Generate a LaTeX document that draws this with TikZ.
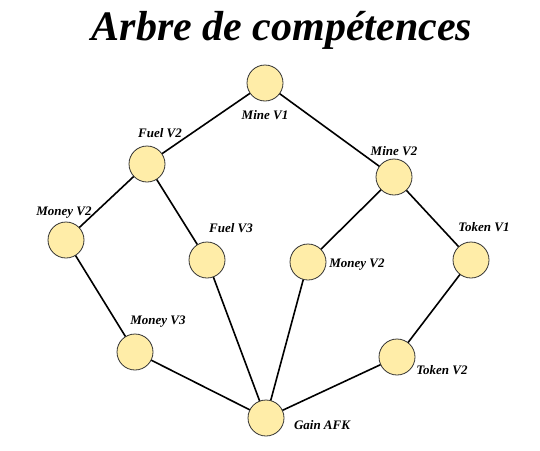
\documentclass[tikz,border=0pt]{standalone}
\usepackage{fontspec}
\setmainfont{Liberation Serif}
\definecolor{skillfill}{HTML}{FFEDA8}
\definecolor{skilldraw}{HTML}{333333}
\tikzset{
	skill/.style={circle, draw=skilldraw, fill=skillfill, line width=0.8pt, minimum size=36pt, inner sep=0pt},
	skilllabel/.style={font=\bfseries\itshape\fontsize{13}{13}\selectfont, inner sep=1pt},
	link/.style={line width=1.6pt, black}
}
\begin{document}
\begin{tikzpicture}[x=1pt,y=-1pt]
	\useasboundingbox (0,0) rectangle (540,450);

	% Title
	\node (title) at (282,30) {\bfseries\itshape\fontsize{42}{42}\selectfont Arbre de compétences};

	% Skills
	\foreach \name/\x/\y in {mine1/265/83, fuel2/147/164, mine2/394/177, moneyA/66/240,
			fuel3/207/260, moneyB/308/262, token1/471/260, money3/135/352,
			token2/397/357, gain/266/418}{
			\coordinate (c-\name) at (\x,\y);
		}

	% Links
	\foreach \a/\b in {mine1/fuel2, mine1/mine2, fuel2/moneyA, fuel2/fuel3,
			moneyA/money3, money3/gain, fuel3/gain, mine2/moneyB,
			mine2/token1, moneyB/gain, token1/token2, token2/gain}{
			\draw [link] (c-\a) -- (c-\b);
		}

	\foreach \name in {mine1,fuel2,mine2,moneyA,fuel3,moneyB,token1,money3,token2,gain}{
			\node [skill] (\name) at (c-\name) {};
		}

	% Labels
	\node [skilllabel] (l-mine1) at (265,115) {Mine V1};
	\node [skilllabel] (l-fuel2) at (160,133) {Fuel V2};
	\node [skilllabel] (l-mine2) at (394,151) {Mine V2};
	\node [skilllabel] (l-moneyA) at (64,213) {Money V2};
	\node [skilllabel] (l-fuel3) at (231,228) {Fuel V3};
	\node [skilllabel] (l-moneyB) at (357,265) {Money V2};
	\node [skilllabel] (l-token1) at (484,227) {Token V1};
	\node [skilllabel] (l-money3) at (158,322) {Money V3};
	\node [skilllabel] (l-token2) at (442,370) {Token V2};
	\node [skilllabel] (l-gain) at (322,425) {Gain AFK};
\end{tikzpicture}
\end{document}
